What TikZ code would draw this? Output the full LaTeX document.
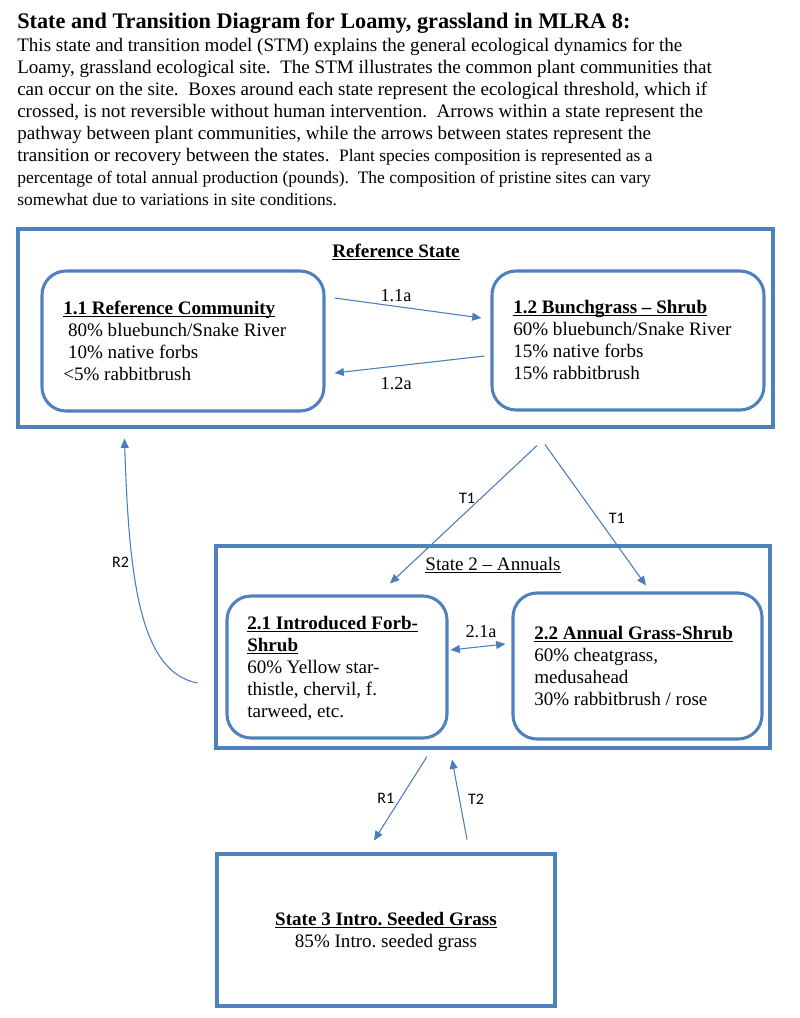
\documentclass[tikz,border=0pt]{standalone}
\usepackage{fontspec}
\setmainfont{Liberation Serif}
\newfontfamily\labelfont{Carlito}
\usetikzlibrary{arrows.meta,fit}

\definecolor{stmblue}{RGB}{79,129,189}
\definecolor{arrowblue}{RGB}{74,126,187}
\newcommand{\ulbox}[1]{\underline{\smash{#1}}}
\newcommand{\smallpar}{\fontsize{13.1}{16.4}\selectfont}

\begin{document}
\begin{tikzpicture}[
    x=0.75pt, y=-0.75pt,
    statebox/.style={draw=stmblue, line width=2.3pt, inner sep=0pt},
    community/.style={statebox, rounded corners=18pt},
    boxtext/.style={anchor=base west, align=left, inner sep=0pt, font=\fontsize{14.3}{16.4}\selectfont},
    headtext/.style={anchor=base, align=center, inner sep=0pt, font=\fontsize{14.3}{16.4}\selectfont},
    flow/.style={draw=arrowblue, line width=0.8pt, -{Triangle[length=7pt,width=6pt]}},
    lab/.style={inner sep=0pt, font=\fontsize{13.7}{16}\selectfont},
    tlab/.style={inner sep=0pt, font=\labelfont\fontsize{12}{14}\selectfont}
    ]
    \useasboundingbox (0,0) rectangle (800,1018);

    % heading and explanation (base = last line)
    \node (title) at (17,28) [anchor=base west, inner sep=0pt, font=\bfseries\fontsize{16.7}{20}\selectfont]
      {State and Transition Diagram for Loamy, grassland in MLRA 8:};
    \node (intro) at (17,205) [boxtext]
      {This state and transition model (STM) explains the general ecological dynamics for the\\
       Loamy, grassland ecological site.\ \ The STM illustrates the common plant communities that\\
       can occur on the site.\ \ Boxes around each state represent the ecological threshold, which if\\
       crossed, is not reversible without human intervention.\ \ Arrows within a state represent the\\
       pathway between plant communities, while the arrows between states represent the\\
       transition or recovery between the states.\ \ {\smallpar Plant species composition is represented as a}\\
       {\smallpar percentage of total annual production (pounds).\ \ The composition of pristine sites can vary}\\
       {\smallpar somewhat due to variations in site conditions.}};

    % states
    \node (ref) [statebox, fit={(18,229) (773,427)}] {};
    \node (st2) [statebox, fit={(216,546) (770,748)}] {};
    \node (st3) [statebox, fit={(217,854) (555,1006)}] {};

    % communities
    \node (c11) [community, fit={(42,271) (324,411)}] {};
    \node (c12) [community, fit={(492,271) (764,410)}] {};
    \node (c21) [community, fit={(227,596) (447,738)}] {};
    \node (c22) [community, fit={(513,593) (762,739)}] {};

    \node (reftitle) at (396,257) [headtext] {\textbf{\ulbox{Reference State}}};
    \node (st2title) at (493,570) [headtext] {\ulbox{State 2 -- Annuals}};
    \node (st3text) at (386,947) [headtext] {\textbf{\ulbox{State 3 Intro.\ Seeded Grass}}\\85\% Intro.\ seeded grass};

    \node (c11text) at (63,380) [boxtext] {\textbf{\ulbox{1.1 Reference Community}}\\
      \ 80\% bluebunch/Snake River\\ \ 10\% native forbs\\<5\% rabbitbrush};
    \node (c12text) at (513,379) [boxtext] {\textbf{\ulbox{1.2 Bunchgrass -- Shrub}}\\
      60\% bluebunch/Snake River\\15\% native forbs\\15\% rabbitbrush};
    \node (c21text) at (247,717) [boxtext] {\textbf{\ulbox{2.1 Introduced Forb-}}\\\textbf{\ulbox{Shrub}}\\
      60\% Yellow star-\\thistle, chervil, f.\\tarweed, etc.};
    \node (c22text) at (534,705) [boxtext] {\textbf{\ulbox{2.2 Annual Grass-Shrub}}\\
      60\% cheatgrass,\\medusahead\\30\% rabbitbrush / rose};

    % pathways within states
    \draw [flow] ([shift={(9,-43)}]c11.east) to node [lab, xshift=-9pt, yshift=9pt] {1.1a} ([shift={(-9,-22.5)}]c12.west);
    \draw [flow] ([shift={(-6,15.5)}]c12.west) to node [lab, xshift=-10pt, yshift=-14.6pt] {1.2a} ([shift={(9,32)}]c11.east);
    \draw [flow, {Triangle[length=7pt,width=6pt]}-{Triangle[length=7pt,width=6pt]}]
      ([shift={(2,-17)}]c21.east) to node [lab, xshift=2.3pt, yshift=11.3pt] {2.1a} ([shift={(-6,-22)}]c22.west);

    % transitions and restorations
    \draw [flow] ([shift={(141.5,17)}]ref.south) to node [tlab, xshift=2.6pt, yshift=12.4pt] {T1} ([shift={(53,-11)}]c21.north);
    \draw [flow] ([shift={(149.5,16)}]ref.south) to node [tlab, xshift=16pt, yshift=-2.3pt] {T1} ([shift={(8.5,-6)}]c22.north);
    \draw [flow] ([shift={(-17,36)}]st2.west) .. controls (140,672) and (129,580) .. ([shift={(108,10)}]ref.south west)
      node [tlab, pos=0.5, xshift=-15.4pt, yshift=35.6pt] {R2};
    \draw [flow] ([shift={(-66,7)}]st2.south) to node [tlab, xshift=-11pt] {R1} ([shift={(-12,-12)}]st3.north);
    \draw [flow] ([shift={(81,-13)}]st3.north) to node [tlab, xshift=12.4pt] {T2} ([shift={(-41,10)}]st2.south);
  \end{tikzpicture}
\end{document}
